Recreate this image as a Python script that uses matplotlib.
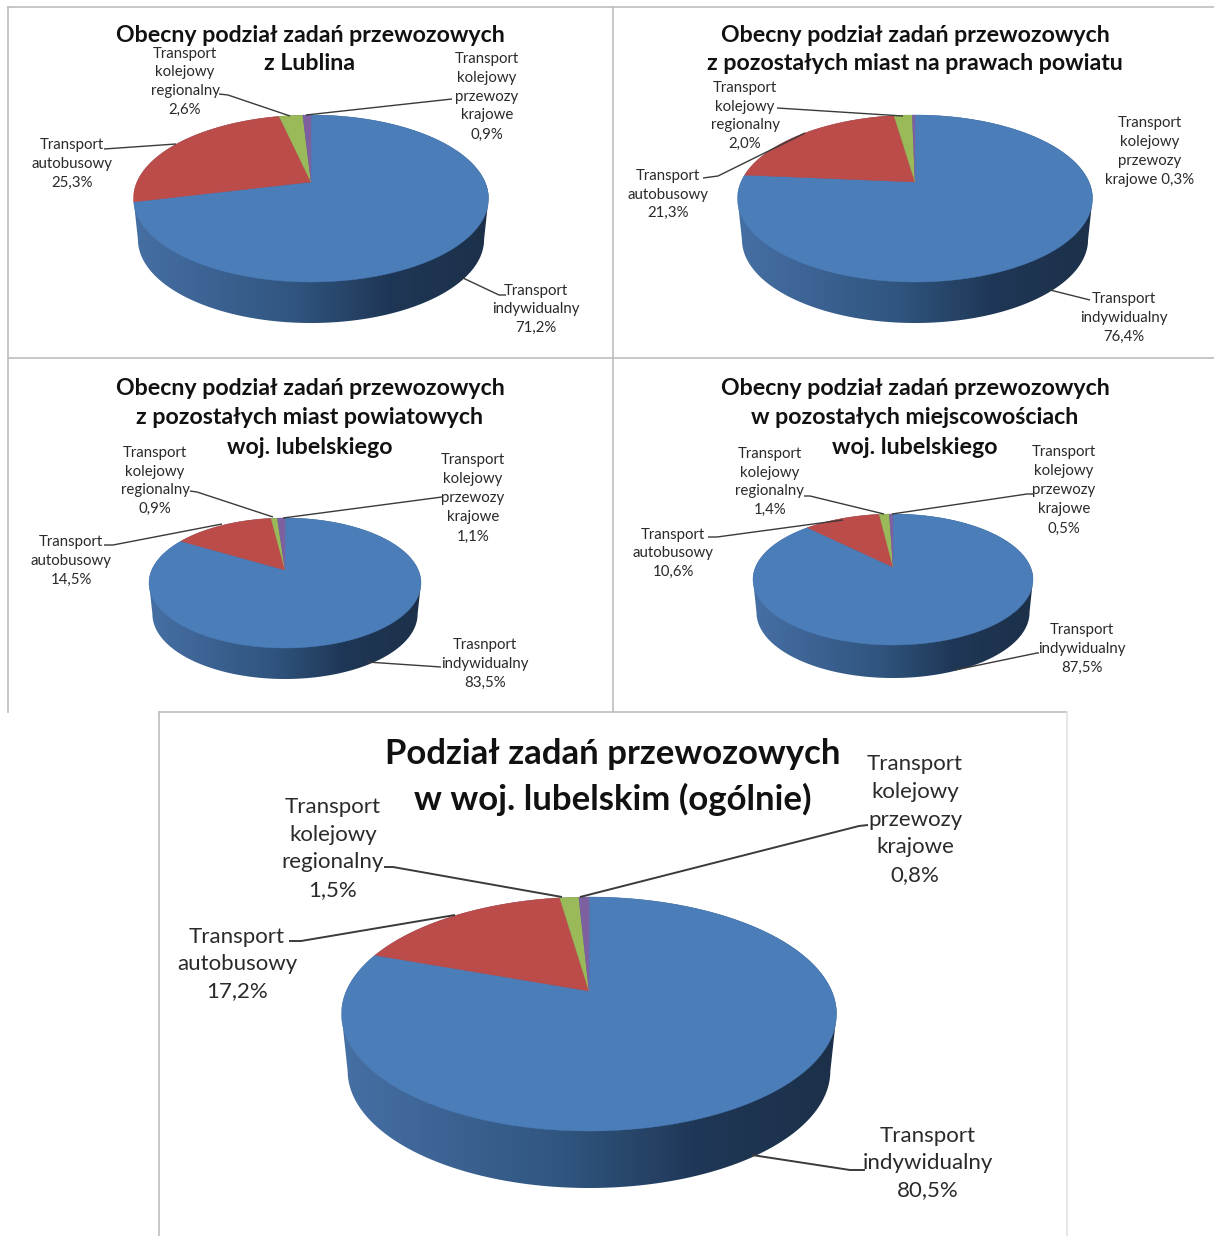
import numpy as np
import matplotlib
matplotlib.use("Agg")
import matplotlib.pyplot as plt
from matplotlib.patches import Polygon
from matplotlib.colors import LinearSegmentedColormap

plt.rcParams['font.family'] = ['Lato', 'DejaVu Sans']

# ---------- data ----------
lublin_values = [71.2, 25.3, 2.6, 0.9]
powiat_rights_values = [76.4, 21.3, 2.0, 0.3]
county_towns_values = [83.5, 14.5, 0.9, 1.1]
other_places_values = [87.5, 10.6, 1.4, 0.5]
overall_values = [80.5, 17.2, 1.5, 0.8]

title_common = "Obecny podział zadań przewozowych"
title_lublin = title_common + "\nz Lublina"
title_powiat = title_common + "\nz pozostałych miast na prawach powiatu"
title_county = title_common + "\nz pozostałych miast powiatowych\nwoj. lubelskiego"
title_other = title_common + "\nw pozostałych miejscowościach\nwoj. lubelskiego"
title_overall = "Podział zadań przewozowych\nw woj. lubelskim (ogólnie)"

slice_colors = ['#4B7DB9', '#BC4C49', '#9ABA59', '#7C60A0']
side_cmap = LinearSegmentedColormap.from_list(
    'side', [(0, '#466FA4'), (0.45, '#30557F'), (0.72, '#1F3756'), (1, '#1C3049')])
FRAME = '#BDBDBD'
LEADER = '#3A3A3A'
TITLE_C = '#111111'
LABEL_C = '#2A2A2A'

W, H = 1214, 1236
fig = plt.figure(figsize=(W / 100, H / 100), dpi=100, facecolor='white')
ax = fig.add_axes([0, 0, 1, 1])
ax.axis('off')
gradient = np.linspace(0, 1, 512).reshape(1, -1)


def project(theta, g):
    u, v = np.sin(theta), -np.cos(theta)
    a, b = g['apex'] - g['top'], g['bot'] - g['apex']
    ry = 2 * a * b / (a + b)
    k = (b - a) / (a + b)
    rx = g['half'] * np.sqrt(1 - k * k)
    s = 1 / (1 - k * v)
    return g['cx'] + rx * u * s, g['apex'] + ry * v * s


def draw_pie(values, g):
    # side wall: a horizontal gradient clipped to the silhouette of the extruded disc
    th = np.radians(np.linspace(0, 360, 721)[:-1])
    x, y = project(th, g)
    xb = g['cx'] + (x - g['cx']) * g['shrink']
    yb = y + g['depth']
    ir, il = int(np.argmax(x)), int(np.argmin(x))
    back = np.r_[il:len(th), 0:ir + 1]
    front = np.arange(ir, il + 1)
    outline = np.c_[np.r_[x[back], xb[front]], np.r_[y[back], yb[front]]]
    clip = Polygon(outline, closed=True, transform=ax.transData, facecolor='none', edgecolor='none')
    ax.add_patch(clip)
    im = ax.imshow(gradient, cmap=side_cmap, aspect='auto', zorder=2, interpolation='bilinear',
                   extent=(g['cx'] - g['half'], g['cx'] + g['half'],
                           g['bot'] + g['depth'] + 2, g['top'] - 2))
    im.set_clip_path(clip)
    # top surface, clockwise from twelve o'clock
    edges = np.cumsum([0] + list(values)) / sum(values) * 2 * np.pi
    for i, col in enumerate(slice_colors):
        t = np.linspace(edges[i], edges[i + 1], max(3, int((edges[i + 1] - edges[i]) * 80)))
        px, py = project(t, g)
        ax.fill(np.r_[g['cx'], px], np.r_[g['apex'], py], facecolor=col, edgecolor=col,
                linewidth=0.3, zorder=3)


def label(text, cx, first, last, size):
    n = text.count('\n') + 1
    pitch = (last - first) / max(n - 1, 1)
    ax.text(cx, (first + last) / 2 + 1, text, ha='center', va='center', ma='center',
            fontsize=size, color=LABEL_C, linespacing=pitch / (size / 0.72 * 0.86), zorder=6)


def title(text, cx, first, last, size):
    n = text.count('\n') + 1
    pitch = (last - first) / max(n - 1, 1)
    ax.text(cx, (first + last) / 2 + 1.5, text, ha='center', va='center', ma='center',
            fontsize=size, color=TITLE_C, fontweight='bold',
            linespacing=pitch / (size / 0.72 * 0.88), zorder=6)


def leader(*pts, lw=1.0):
    xs, ys = zip(*pts)
    ax.plot(xs, ys, color=LEADER, lw=lw, zorder=5, solid_capstyle='butt')


# ---------- frames ----------
for xs, ys, c in [
    ((8, 1214), (7, 7), FRAME), ((8, 1214), (358, 358), FRAME),
    ((8, 8), (7, 712), FRAME), ((613, 613), (7, 712), FRAME),
    ((159, 1067), (712, 712), FRAME), ((159, 159), (712, 1236), FRAME),
    ((1067, 1067), (712, 1236), '#E2E2E2')]:
    ax.plot(xs, ys, color=c, lw=1.2, zorder=1)

LS, TS = 10.8, 16.7
LB, TB = 16.0, 25.0

# ---------- panel 1 ----------
draw_pie(lublin_values, dict(cx=311, apex=182, top=115, bot=282, half=177.5, depth=41, shrink=0.975))
title(title_lublin, 310, 33, 63, TS)
label("Transport\nkolejowy\nregionalny\n2,6%", 185, 53, 108, LS)
label("Transport\nkolejowy\nprzewozy\nkrajowe\n0,9%", 487, 58, 133, LS)
label("Transport\nautobusowy\n25,3%", 72, 144, 182, LS)
label("Transport\nindywidualny\n71,2%", 536, 290, 327, LS)
leader((219, 94), (228, 95), (290, 116))
leader((452, 99), (306, 115))
leader((104, 149), (176, 144))
leader((506, 295), (499, 295), (463, 278))

# ---------- panel 2 ----------
draw_pie(powiat_rights_values, dict(cx=915, apex=182, top=115, bot=282, half=177.5, depth=41, shrink=0.975))
title(title_powiat, 915, 33, 63, TS)
label("Transport\nkolejowy\nregionalny\n2,0%", 745, 87, 143, LS)
label("Transport\nkolejowy\nprzewozy\nkrajowe 0,3%", 1150, 122, 179, LS)
label("Transport\nautobusowy\n21,3%", 668, 175, 212, LS)
label("Transport\nindywidualny\n76,4%", 1124, 298, 336, LS)
leader((777, 108), (903, 116))
leader((703, 178), (718, 176), (805, 133))
leader((1090, 300), (1050, 290))

# ---------- panel 3 ----------
draw_pie(county_towns_values, dict(cx=285, apex=570, top=518, bot=648, half=136, depth=31, shrink=0.975))
title(title_county, 310, 386, 447, TS)
label("Transport\nkolejowy\nregionalny\n0,9%", 155, 452, 508, LS)
label("Transport\nkolejowy\nprzewozy\nkrajowe\n1,1%", 473, 459, 535, LS)
label("Transport\nautobusowy\n14,5%", 71, 541, 579, LS)
label("Trasnport\nindywidualny\n83,5%", 485, 644, 682, LS)
leader((190, 491), (197, 492), (273, 517))
leader((442, 497), (283, 518))
leader((104, 545), (113, 545), (222, 524))
leader((441, 667), (367, 662))

# ---------- panel 4 ----------
draw_pie(other_places_values, dict(cx=893, apex=567, top=514, bot=645, half=140, depth=33, shrink=0.975))
title(title_other, 915, 386, 447, TS)
label("Transport\nkolejowy\nregionalny\n1,4%", 770, 453, 509, LS)
label("Transport\nkolejowy\nprzewozy\nkrajowe\n0,5%", 1064, 451, 527, LS)
label("Transport\nautobusowy\n10,6%", 673, 534, 571, LS)
label("Transport\nindywidualny\n87,5%", 1082, 629, 667, LS)
leader((804, 496), (810, 496), (884, 514))
leader((1033, 494), (1027, 494), (892, 514))
leader((708, 537), (717, 537), (843, 520))
leader((1039, 653), (1037, 653), (955, 670))

# ---------- panel 5 ----------
draw_pie(overall_values, dict(cx=589, apex=991, top=897, bot=1131, half=247.5, depth=57, shrink=0.975))
title(title_overall, 613, 753, 798, TB)
label("Transport\nkolejowy\nregionalny\n1,5%", 333, 805, 890, LB)
label("Transport\nkolejowy\nprzewozy\nkrajowe\n0,8%", 915, 762, 875, LB)
label("Transport\nautobusowy\n17,2%", 237, 935, 991, LB)
label("Transport\nindywidualny\n80,5%", 928, 1134, 1190, LB)
leader((384, 867), (393, 867), (562, 897), lw=1.4)
leader((868, 825), (859, 826), (580, 897), lw=1.4)
leader((289, 941), (301, 941), (455, 915), lw=1.4)
leader((865, 1170), (850, 1170), (752, 1155), lw=1.4)

ax.set_xlim(0, W)
ax.set_ylim(H, 0)
fig.savefig('out.png', dpi=100, facecolor='white')
